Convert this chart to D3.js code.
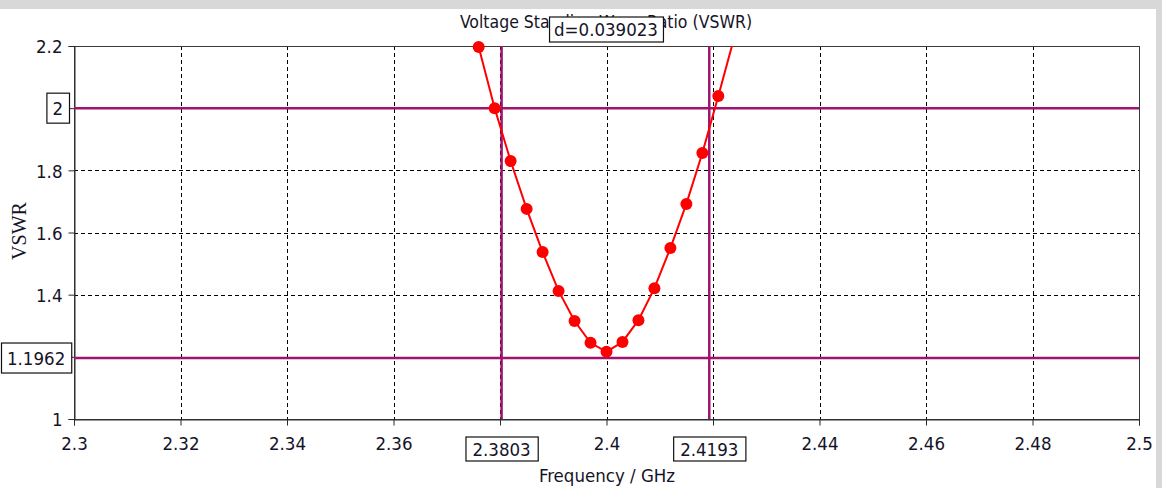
<!DOCTYPE html>
<html><head><meta charset="utf-8">
<script src="https://cdn.jsdelivr.net/npm/d3@7"></script>
<style>
html,body{margin:0;padding:0;background:#fff;}
svg text{font-family:"DejaVu Sans Condensed","DejaVu Sans",sans-serif;font-stretch:condensed;fill:#141428;}
</style></head>
<body>
<svg id="c" width="1162" height="488"></svg>
<script>
// ---- data ----
const freqs = [2.376,2.379,2.382,2.385,2.388,2.391,2.394,2.397,2.400,2.403,2.406,2.409,2.412,2.415,2.418,2.421,2.424];
const vswr  = [2.197,2.000,1.830,1.676,1.537,1.412,1.315,1.245,1.216,1.248,1.318,1.421,1.550,1.692,1.856,2.039,2.228];
const xTicks = [2.3,2.32,2.34,2.36,2.38,2.4,2.42,2.44,2.46,2.48,2.5];
const yTicks = [1,1.2,1.4,1.6,1.8,2,2.2];
const xMarkers = [2.3803,2.4193];
const xMarkerLabels = ["2.3803","2.4193"];
const yMarkers = [2,1.1962];
const yMarkerLabels = ["2","1.1962"];
const titleText = "Voltage Standing Wave Ratio (VSWR)";
const deltaText = "d=0.039023";
const xLabel = "Frequency / GHz";
const yLabel = "VSWR";

// ---- layout ----
const L=74,R=1139,T=46,B=419;
const FS="18.5px";
const svg=d3.select("#c");
const x=d3.scaleLinear().domain([2.3,2.5]).range([L,R]);
const y=d3.scaleLinear().domain([1,2.2]).range([B,T]);
const markerCol="#a0136f";

// background bands
svg.append("rect").attr("x",0).attr("y",0).attr("width",1162).attr("height",9).attr("fill","#d8d8d8");
svg.append("rect").attr("x",1156).attr("y",0).attr("width",6).attr("height",488).attr("fill","#d8d8d8");

// grid
const grid=svg.append("g").attr("stroke","#000").attr("stroke-width",1).attr("stroke-dasharray","4,3");
grid.selectAll("line.v").data(xTicks.slice(1,-1)).join("line")
  .attr("x1",d=>Math.round(x(d))+0.5).attr("x2",d=>Math.round(x(d))+0.5).attr("y1",T).attr("y2",B);
grid.selectAll("line.h").data(yTicks.slice(1,-1)).join("line")
  .attr("y1",d=>Math.round(y(d))+0.5).attr("y2",d=>Math.round(y(d))+0.5).attr("x1",L).attr("x2",R);

// frame
svg.append("rect").attr("x",L+0.5).attr("y",T+0.5).attr("width",R-L).attr("height",B-T)
  .attr("fill","none").attr("stroke","#3a3a3a").attr("stroke-width",1);

// axes
const xAxis=d3.axisBottom(x).tickValues(xTicks).tickSize(6).tickPadding(9)
  .tickFormat(d=>xMarkers.some(m=>Math.abs(m-d)<0.01)?"":d3.format("~g")(d));
const gx=svg.append("g").attr("transform",`translate(0,${B+0.5})`).call(xAxis);
const yAxis=d3.axisLeft(y).tickValues(yTicks).tickSize(6).tickPadding(6)
  .tickFormat(d=>yMarkers.some(m=>Math.abs(m-d)<0.05)?"":d3.format("~g")(d));
const gy=svg.append("g").attr("transform",`translate(${L+0.5},0)`).call(yAxis);
[gx,gy].forEach(g=>{
  g.select(".domain").attr("stroke","#2a2a2a");
  g.selectAll(".tick line").attr("stroke","#2a2a2a");
  g.selectAll("text").style("font-size",FS).attr("fill","#141428");
});
gx.selectAll(".tick text").attr("dy","0.85em");
gy.selectAll(".tick text").attr("dy","0.36em");

// marker lines
svg.append("g").selectAll("line").data(yMarkers).join("line")
  .attr("x1",L).attr("x2",R).attr("y1",d=>y(d)).attr("y2",d=>y(d))
  .attr("stroke",markerCol).attr("stroke-width",2.5);
svg.append("g").selectAll("line").data(xMarkers).join("line")
  .attr("x1",d=>x(d)).attr("x2",d=>x(d)).attr("y1",T).attr("y2",B)
  .attr("stroke",markerCol).attr("stroke-width",2.5);

// curve
const clipId="plotclip";
svg.append("clipPath").attr("id",clipId).append("rect").attr("x",L).attr("y",T).attr("width",R-L).attr("height",B-T);
const pts=freqs.map((f,i)=>({f,v:vswr[i]}));
svg.append("path").datum(pts).attr("clip-path",`url(#${clipId})`)
  .attr("fill","none").attr("stroke","#ff0000").attr("stroke-width",2)
  .attr("d",d3.line().x(d=>x(d.f)).y(d=>y(d.v)));
svg.append("g").selectAll("circle").data(pts.filter(d=>d.v<=2.2)).join("circle")
  .attr("cx",d=>x(d.f)).attr("cy",d=>y(d.v)).attr("r",6).attr("fill","#ff0000");

// title
svg.append("text").attr("x",606).attr("y",28).attr("text-anchor","middle").style("font-size","17.5px").text(titleText);

// boxed labels helper
function boxLabel(cx,cy,txt,padX,h,anchor,fs){
  const g=svg.append("g");
  const r=g.append("rect").attr("fill","#fff").attr("stroke","#111").attr("stroke-width",1.2);
  const t=g.append("text").style("font-size",fs||FS).attr("text-anchor","middle").attr("dy","0.36em").text(txt);
  const w=t.node().getComputedTextLength()+2*padX;
  let left = anchor==="right" ? cx-w : cx-w/2;
  left=Math.max(1,left);
  t.attr("x",left+w/2).attr("y",cy);
  r.attr("x",left+0.5).attr("y",cy-h/2).attr("width",w).attr("height",h);
}
boxLabel(606,29.5,deltaText,5,25,"center");
xMarkers.forEach((m,i)=>boxLabel(x(m),449,xMarkerLabels[i],7,24,"center"));
yMarkers.forEach((m,i)=>boxLabel(69,y(m),yMarkerLabels[i],6,30,"right"));

// axis titles
svg.append("text").attr("x",607).attr("y",482).attr("text-anchor","middle").style("font-size",FS).text(xLabel);
svg.append("text").attr("transform","translate(26,231) rotate(-90)").attr("text-anchor","middle")
  .style("font-family","'Liberation Serif',serif").style("font-stretch","normal").style("font-size","20px")
  .attr("fill","#1c3558").text(yLabel);
</script>
</body></html>
